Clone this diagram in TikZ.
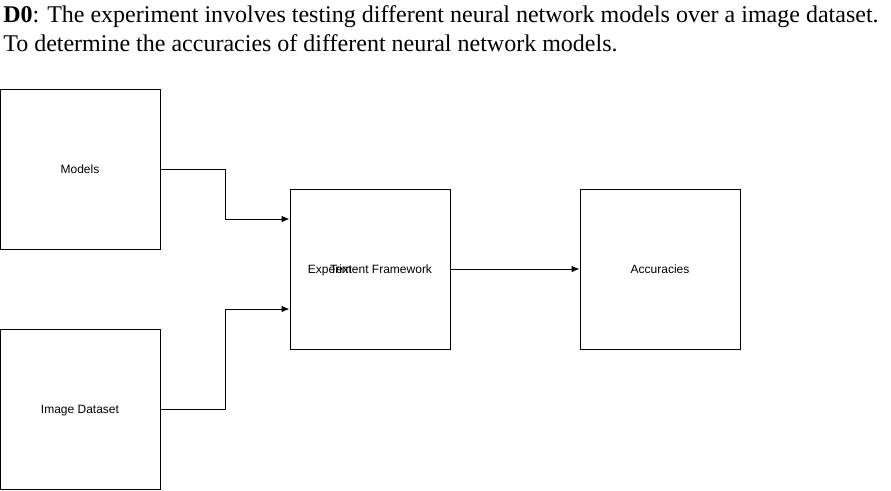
\documentclass[tikz,border=0pt]{standalone}
\usepackage{fontspec}
\setmainfont{Liberation Serif}
\newfontfamily\boxfont{Liberation Sans}
\usetikzlibrary{arrows.meta}
\tikzset{
  blockbox/.style={draw,line width=0.75pt,minimum width=120pt,minimum height=120pt,inner sep=0pt,text height=7.8pt,text depth=1.2pt,font=\boxfont\fontsize{9}{10}\selectfont},
  plainlabel/.style={inner sep=0pt,text height=7.8pt,text depth=1.2pt,font=\boxfont\fontsize{9}{10}\selectfont},
  titleline/.style={anchor=base west,inner sep=0pt,font=\fontsize{18}{21}\selectfont},
  link/.style={black,line width=0.75pt,->},
}
\begin{document}
\begin{tikzpicture}[>={Latex[length=6pt,width=5pt]},line join=miter,x=0.75pt,y=-0.75pt]
%%
\useasboundingbox (0,0) rectangle (891,490);
\node (title) at (3,22) [titleline] {\textbf{D0}: The experiment involves testing different neural network models over a image dataset.};
  \node (subtitle) at (3,51) [titleline] {To determine the accuracies of different neural network models.};
  \node (node_models) at (80,169) [blockbox] {Models};
  \node (node_data) at (80,409) [blockbox] {Image Dataset};
  \node (node_exp) at (370,269) [blockbox] {Experiment Framework};
  \node (node_text) at (341,269) [plainlabel] {Text};
  \node (node_acc) at (660,269) [blockbox] {Accuracies};
  \draw [link] (node_models.east) -- (225,169) -- (225,219) -- (node_exp.west |- 0,219);
  \draw [link] (node_data.east) -- (225,409) -- (225,309) -- (node_exp.west |- 0,309);
  \draw [link] (node_exp) -- (node_acc);
%
\end{tikzpicture}
\end{document}
